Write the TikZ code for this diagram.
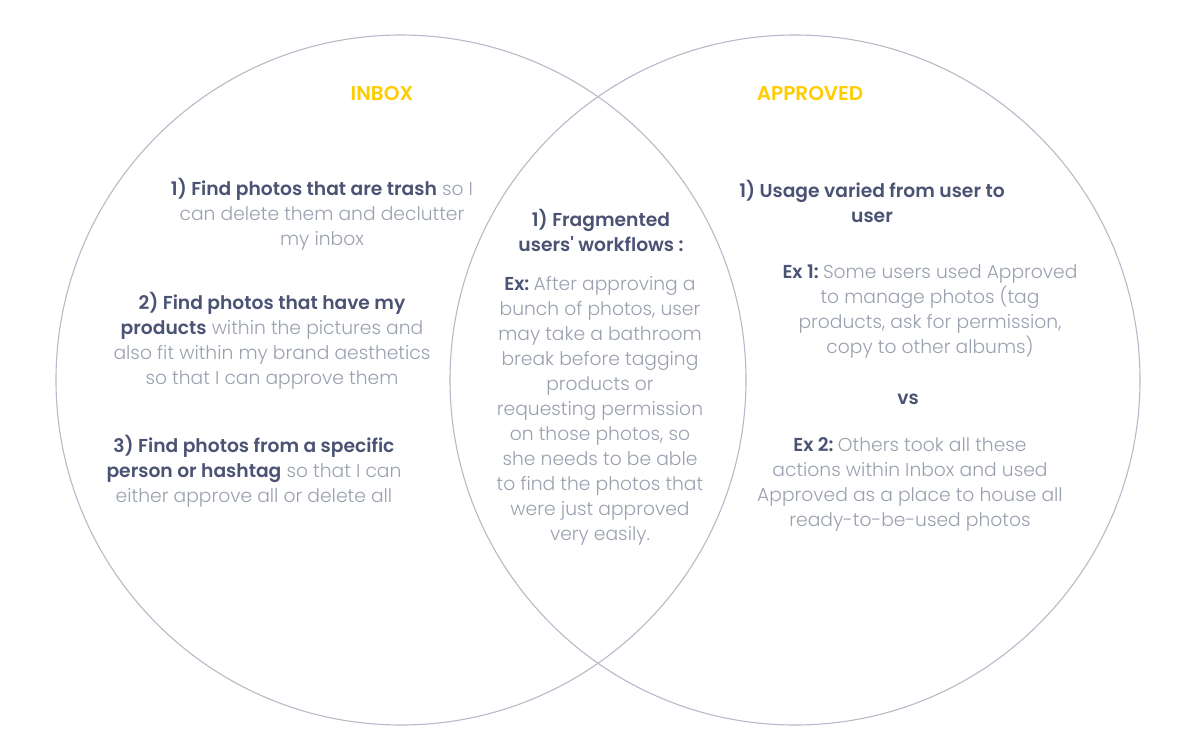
\documentclass[tikz,border=0pt]{standalone}
\usepackage{fontspec}
\setmainfont{Poppins}[UprightFont=* Light, BoldFont=* SemiBold, Ligatures=TeXOff]
\definecolor{ring}{HTML}{B9B9CA}
\definecolor{dark}{HTML}{4B5374}
\definecolor{grayt}{HTML}{9AA1AF}
\definecolor{gold}{HTML}{FFCC00}
\newcommand\dk[1]{\textcolor{dark}{\textbf{#1}}}
\newcommand\exlabel[1]{\dk{#1}\hspace{-2.5pt}}
\tikzset{
  txt/.style={align=center, font=\fontsize{18.7}{25}\selectfont, text=grayt, inner sep=0pt},
  darktxt/.style={txt, text=dark, font=\fontsize{18.7}{25}\selectfont\bfseries},
  head/.style={font=\fontsize{20}{25}\selectfont\bfseries, text=gold, inner sep=0pt},
  ringline/.style={draw=ring, line width=1.1pt}
}
\begin{document}
\begin{tikzpicture}[x=1pt,y=-1pt]
\useasboundingbox[fill=white] (0,0) rectangle (1200,750);
% the two sets
\draw[ringline] (401,380) circle[radius=345];
\draw[ringline] (795,380) circle[radius=345];
% headings
\node[head] (inbox) at (382,93) {INBOX};
\node[head] (approved) at (810,93) {APPROVED};
% inbox only
\node[txt] (l1) at (322,214) {\dk{1) Find photos that are trash} so I\\can delete them and declutter\\my inbox};
\node[txt] (l2) at (272,341) {\dk{2) Find photos that have my}\\\dk{products} within the pictures and\\also fit within my brand aesthetics\\so that I can approve them};
\node[txt] (l3) at (254,471) {\dk{3) Find photos from a specific}\\\dk{person or hashtag} so that I can\\either approve all or delete all};
% overlap
\node[darktxt] (m1) at (601,230) {1) Fragmented\\users' workflows :};
\node[txt] (m2) at (600,411) {\exlabel{Ex:} After approving a\\bunch of photos, user\\may take a bathroom\\break before tagging\\products or\\requesting permission\\on those photos, so\\she needs to be able\\to find the photos that\\were just approved\\very easily.};
% approved only
\node[darktxt] (r1) at (872,201) {1) Usage varied from user to\\user};
\node[txt] (r2) at (930,311) {\exlabel{Ex 1:} Some users used Approved\\to manage photos (tag\\products, ask for permission,\\copy to other albums)};
\node[darktxt] (vs) at (908,399) {vs};
\node[txt] (r3) at (910,484) {\exlabel{Ex 2:} Others took all these\\actions within Inbox and used\\Approved as a place to house all\\ready-to-be-used photos};
\end{tikzpicture}
\end{document}
